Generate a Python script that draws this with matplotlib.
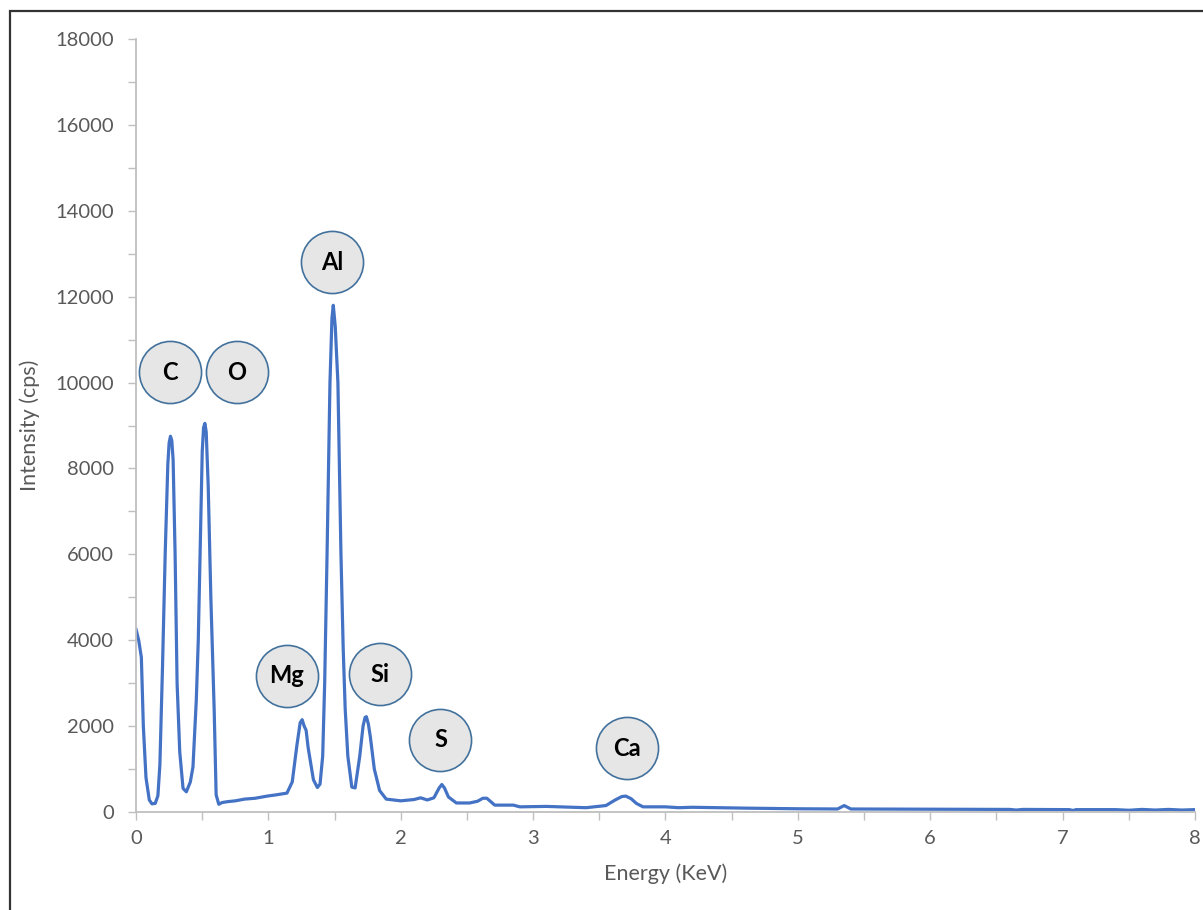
import numpy as np
import matplotlib.pyplot as plt
from matplotlib.patches import Rectangle
from matplotlib.ticker import MultipleLocator

plt.rcParams['font.family'] = ['Lato', 'DejaVu Sans']

# spectrum (energy in keV, counts per second)
energy = [0.00, 0.02, 0.04, 0.055, 0.075, 0.10, 0.12, 0.145, 0.165, 0.18,
          0.20, 0.22, 0.24, 0.25, 0.26, 0.27, 0.28, 0.295, 0.31, 0.33, 0.355,
          0.38, 0.41, 0.43, 0.455, 0.47, 0.485, 0.50, 0.51, 0.52, 0.53, 0.545,
          0.565, 0.59, 0.605, 0.625, 0.65, 0.69, 0.75, 0.82, 0.90, 0.99,
          1.06, 1.14, 1.18, 1.215, 1.24, 1.255, 1.27, 1.285, 1.30, 1.34, 1.37,
          1.39, 1.41, 1.425, 1.443, 1.465, 1.48, 1.49, 1.505, 1.525, 1.548,
          1.565, 1.58, 1.60, 1.63, 1.655, 1.69, 1.715, 1.73, 1.74, 1.755, 1.77,
          1.80, 1.84, 1.89, 2.00, 2.10, 2.15, 2.20, 2.25, 2.29, 2.31, 2.33, 2.36,
          2.42, 2.52, 2.58, 2.62, 2.65, 2.71, 2.85, 2.90, 3.10, 3.40, 3.55,
          3.62, 3.67, 3.70, 3.74, 3.78, 3.83, 4.00, 4.10, 4.20, 4.60, 5.00,
          5.30, 5.35, 5.40, 6.00, 6.60, 6.65, 6.70, 7.05, 7.08, 7.10,
          7.40, 7.50, 7.60, 7.70, 7.80, 7.90, 8.00]
intensity = [4250, 4000, 3600, 2000, 800, 280, 190, 200, 380, 1100,
             3400, 6000, 8100, 8600, 8750, 8650, 8200, 6000, 3000, 1400, 550,
             470, 700, 1050, 2600, 4000, 6200, 8400, 8950, 9050, 8850, 7600,
             5000, 2400, 400, 180, 220, 240, 260, 300, 320, 370,
             400, 440, 700, 1550, 2080, 2150, 2000, 1900, 1500, 750, 570,
             650, 1300, 3000, 6000, 10000, 11500, 11800, 11300, 10000, 6000,
             3800, 2400, 1300, 580, 560, 1300, 2000, 2200, 2220, 2050, 1750,
             1000, 500, 300, 260, 290, 330, 280, 330, 560, 640, 560, 350,
             210, 210, 250, 320, 320, 160, 160, 120, 130, 100, 150,
             280, 360, 370, 310, 200, 120, 120, 100, 110, 90, 75,
             70, 150, 70, 65, 60, 45, 60, 55, 35, 55,
             55, 40, 60, 45, 60, 45, 55]

# element labels placed above the peaks
elements = ['C', 'O', 'Al', 'Mg', 'Si', 'S', 'Ca']
label_x = [0.257, 0.763, 1.48, 1.14, 1.84, 2.30, 3.71]
label_y = [10240, 10240, 12800, 3170, 3210, 1680, 1490]

fig = plt.figure(figsize=(12.03, 9.10), dpi=100)
ax = fig.add_axes([0.1131, 0.1077, 0.8802, 0.8494])

ax.plot(energy, intensity, color='#4472c4', lw=2.3, zorder=2,
        solid_joinstyle='round')

ax.scatter(label_x, label_y, s=2000, facecolor='#e7e6e6',
           edgecolor='#41719c', linewidth=1.2, zorder=3)
for name, x, y in zip(elements, label_x, label_y):
    ax.text(x, y, name, ha='center', va='center', fontsize=17,
            fontweight='bold', color='black', zorder=4)

ax.set_xlim(0, 8)
ax.set_ylim(0, 18000)
ax.xaxis.set_major_locator(MultipleLocator(1))
ax.xaxis.set_minor_locator(MultipleLocator(0.5))
ax.yaxis.set_major_locator(MultipleLocator(2000))
ax.yaxis.set_minor_locator(MultipleLocator(1000))

for side in ['top', 'right']:
    ax.spines[side].set_visible(False)
for side in ['left', 'bottom']:
    ax.spines[side].set_color('#bfbfbf')
    ax.spines[side].set_linewidth(1.3)

ax.tick_params(which='both', direction='out', length=6, width=1,
               color='#bfbfbf', labelcolor='#595959', labelsize=14.5)
ax.tick_params(axis='y', which='major', pad=10)
ax.tick_params(axis='x', which='major', pad=7)

ax.set_xlabel('Energy (KeV)', fontsize=15.5, color='#595959', labelpad=12)
ax.set_ylabel('Intensity (cps)', fontsize=15.5, color='#595959', labelpad=11)

# dark frame around the chart area, cut off at right and bottom
fig.patches.append(Rectangle((9.5 / 1203, -0.2), 1.5, 1.2 - 10.5 / 910,
                             transform=fig.transFigure, fill=False,
                             edgecolor='#333333', linewidth=1.6))

fig.savefig('out.png', dpi=100)
